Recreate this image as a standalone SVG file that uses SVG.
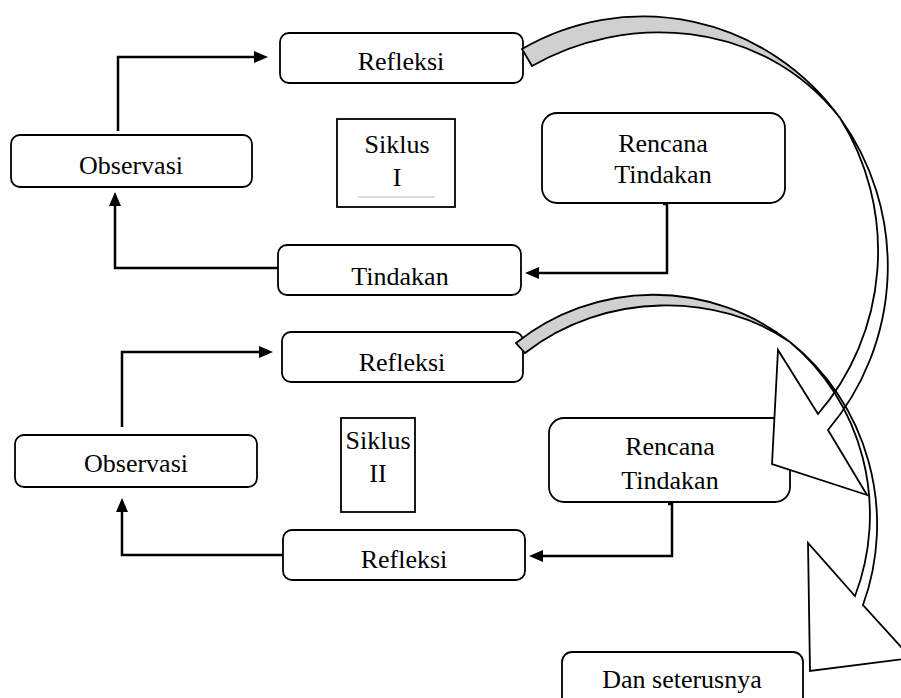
<svg xmlns="http://www.w3.org/2000/svg" xmlns:xlink="http://www.w3.org/1999/xlink" width="901" height="698" viewBox="0 0 901 698">
<style>
.box{fill:#fff;stroke:#000;stroke-width:1.8}
.sq{fill:#fff;stroke:#000;stroke-width:1.8}
.t{font-family:"Liberation Serif","Times New Roman",serif;font-size:26px;fill:#000;text-anchor:middle}
.con{fill:none;stroke:#000;stroke-width:2.5}
.fillw{fill:#fff;stroke:none}
.fillg{fill:#d0d0d0;stroke:none}
.out{fill:none;stroke:#000;stroke-width:1.8;stroke-linejoin:miter}
</style>
<defs>
<marker id="ah" viewBox="0 0 14 12" refX="10" refY="6" markerWidth="14" markerHeight="12" markerUnits="userSpaceOnUse" orient="auto">
<path d="M0,0 L14,6 L0,12 z" fill="#000"/>
</marker>
<path id="a1g" d="M522,49 A245 250 0 0 1 840,118 C760,16 622,13.8 532,66 Z"/>
<path id="a1w" d="M840,118 A245 250 0 0 1 828,430 L867,495 L772,464 L778,350 L818,414 A233 243 0 0 0 840,118 Z"/>
<path id="a2g" d="M516,343 A225 231 0 0 1 790,342 C720,293 605,290 525,353 Z"/>
<path id="a2w" d="M790,342 A225 231 0 0 1 863,605 L911,658 L810,671 L808,543 L855,596 A215 222 0 0 0 790,342 Z"/>
</defs>

<g id="n-refleksi1"><rect class="box" x="280" y="33" width="243" height="50" rx="9"/><text class="t" x="401" y="70">Refleksi</text></g>
<g id="n-observasi1"><rect class="box" x="11" y="135" width="241" height="52" rx="9"/><text class="t" x="131" y="174">Observasi</text></g>
<g id="n-siklus1"><rect class="sq" x="337" y="119" width="118" height="88"/><text class="t" x="397" y="153">Siklus</text><text class="t" x="397" y="186">I</text><line x1="358" y1="197" x2="435" y2="197" stroke="#bbb" stroke-width="1"/></g>
<g id="n-rencana1"><rect class="box" x="542" y="113" width="243" height="90" rx="15"/><text class="t" x="663" y="152">Rencana</text><text class="t" x="663" y="183">Tindakan</text></g>
<g id="n-tindakan"><rect class="box" x="278" y="245" width="243" height="50" rx="9"/><text class="t" x="400" y="285">Tindakan</text></g>

<g id="n-refleksi2"><rect class="box" x="282" y="332" width="241" height="50" rx="9"/><text class="t" x="402" y="371">Refleksi</text></g>
<g id="n-observasi2"><rect class="box" x="15" y="435" width="242" height="52" rx="9"/><text class="t" x="136" y="472">Observasi</text></g>
<g id="n-siklus2"><rect class="sq" x="341" y="418" width="74" height="94"/><text class="t" x="378" y="449">Siklus</text><text class="t" x="378" y="482">II</text></g>
<g id="n-rencana2"><rect class="box" x="549" y="418" width="241" height="84" rx="15"/><text class="t" x="670" y="455">Rencana</text><text class="t" x="670" y="489">Tindakan</text></g>
<g id="n-refleksi3"><rect class="box" x="283" y="530" width="242" height="50" rx="9"/><text class="t" x="404" y="568">Refleksi</text></g>
<g id="n-dan"><rect class="box" x="562" y="652" width="241" height="60" rx="10"/><text class="t" x="682" y="688">Dan seterusnya</text></g>

<g id="connectors">
<path class="con" d="M118,131 V57 H264" marker-end="url(#ah)"/>
<path class="con" d="M278,268 H115 V196" marker-end="url(#ah)"/>
<path class="con" d="M663,204 H667 V273 H529" marker-end="url(#ah)"/>
<path class="con" d="M122,427 V352 H269" marker-end="url(#ah)"/>
<path class="con" d="M283,555 H122 V502" marker-end="url(#ah)"/>
<path class="con" d="M668,504 H672 V556 H533" marker-end="url(#ah)"/>
<g id="curved-arrows">
<use xlink:href="#a1g" class="fillg"/>
<use xlink:href="#a1w" class="fillw"/>
<use xlink:href="#a2g" class="fillg"/>
<use xlink:href="#a2w" class="fillw"/>
<use xlink:href="#a1g" class="out"/>
<use xlink:href="#a1w" class="out"/>
<use xlink:href="#a2g" class="out"/>
<use xlink:href="#a2w" class="out"/>
</g>
</g>
</svg>
